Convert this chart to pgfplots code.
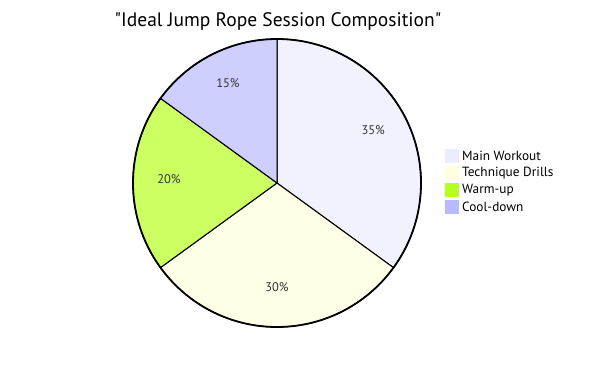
\documentclass[border=0pt]{standalone}
\usepackage{pgfplots}
\pgfplotsset{compat=1.18}
\usepackage{pgfplotstable}
\usetikzlibrary{calc}
\usepackage{fontspec}
\setmainfont{PT Sans}[Ligatures=TeXOff]
\definecolor{cA}{HTML}{ECECFF}
\definecolor{cB}{HTML}{FFFFDE}
\definecolor{cC}{HTML}{B5FF20}
\definecolor{cD}{HTML}{B9B9FF}
\definecolor{txt}{HTML}{333333}
\pgfplotstableread{
name pct
Main 35
Technique 30
Warmup 20
Cooldown 15
}\piedata
\pgfplotstablegetelem{0}{pct}\of\piedata \let\pA\pgfplotsretval
\pgfplotstablegetelem{1}{pct}\of\piedata \let\pB\pgfplotsretval
\pgfplotstablegetelem{2}{pct}\of\piedata \let\pC\pgfplotsretval
\pgfplotstablegetelem{3}{pct}\of\piedata \let\pD\pgfplotsretval
\pgfmathsetmacro\aA{90}
\pgfmathsetmacro\aB{\aA-3.6*\pA}
\pgfmathsetmacro\aC{\aB-3.6*\pB}
\pgfmathsetmacro\aD{\aC-3.6*\pC}
\pgfmathsetmacro\aE{\aD-3.6*\pD}
\pgfmathsetmacro\mA{(\aA+\aB)/2}
\pgfmathsetmacro\mB{(\aB+\aC)/2}
\pgfmathsetmacro\mC{(\aC+\aD)/2}
\pgfmathsetmacro\mD{(\aD+\aE)/2}
\begin{document}
\begin{tikzpicture}
\begin{axis}[width=606pt,height=370pt,scale only axis,xmin=0,xmax=606,ymin=0,ymax=370,hide axis,clip=false]
\path (axis cs:0,0) rectangle (axis cs:606,370);
\filldraw[fill=cA,fill opacity=0.7,draw=black,line width=1pt] (axis cs:277,187) -- ++(\aA:144pt) arc[start angle=\aA,end angle=\aB,radius=144pt] -- cycle;
\filldraw[fill=cB,fill opacity=0.7,draw=black,line width=1pt] (axis cs:277,187) -- ++(\aB:144pt) arc[start angle=\aB,end angle=\aC,radius=144pt] -- cycle;
\filldraw[fill=cC,fill opacity=0.7,draw=black,line width=1pt] (axis cs:277,187) -- ++(\aC:144pt) arc[start angle=\aC,end angle=\aD,radius=144pt] -- cycle;
\filldraw[fill=cD,fill opacity=0.7,draw=black,line width=1pt] (axis cs:277,187) -- ++(\aD:144pt) arc[start angle=\aD,end angle=\aE,radius=144pt] -- cycle;
\draw[black,line width=1.8pt] (axis cs:277,187) circle[radius=144pt];
\begin{scope}[every node/.style={txt,yshift=4pt,font=\fontsize{12.5}{14}\selectfont}]
\node at ($(axis cs:277,187)+(\mA:108pt)$) {\pA\%};
\node at ($(axis cs:277,187)+(\mB:108pt)$) {\pB\%};
\node at ($(axis cs:277,187)+(\mC:108pt)$) {\pC\%};
\node at ($(axis cs:277,187)+(\mD:108pt)$) {\pD\%};
\end{scope}
\node[font=\fontsize{19.5}{22}\selectfont] at (axis cs:278,348) {"Ideal Jump Rope Session Composition"};
\fill[cA] (axis cs:445,207) rectangle (axis cs:459,221);
\fill[cB] (axis cs:445,190) rectangle (axis cs:459,204);
\fill[cC] (axis cs:445,173) rectangle (axis cs:459,187);
\fill[cD] (axis cs:445,156) rectangle (axis cs:459,170);
\begin{scope}[every node/.style={anchor=west,inner sep=0pt,font=\fontsize{13.3}{15}\selectfont}]
\node at (axis cs:462,214) {Main Workout};
\node at (axis cs:462,197) {Technique Drills};
\node at (axis cs:462,180) {Warm-up};
\node at (axis cs:462,163) {Cool-down};
\end{scope}
\end{axis}
\end{tikzpicture}
\end{document}
